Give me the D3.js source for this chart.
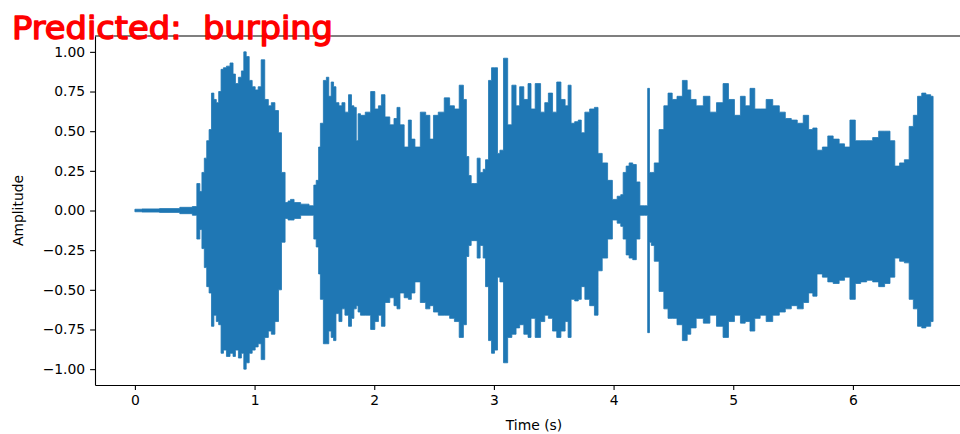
<!DOCTYPE html>
<html>
<head>
<meta charset="utf-8">
<script src="https://cdn.jsdelivr.net/npm/d3@7"></script>
<style>
  html, body { margin: 0; padding: 0; background: #fff; }
  svg { display: block; }
</style>
</head>
<body>
<svg id="chart" width="960" height="434"></svg>
<script>
// ---- data ----
const titleText = "Predicted:  burping";
const xLabel = "Time (s)";
const yLabel = "Amplitude";
const xTicks = [0, 1, 2, 3, 4, 5, 6];
const yTicks = [-1.0, -0.75, -0.5, -0.25, 0, 0.25, 0.5, 0.75, 1.0];

// envelope of the waveform: time (s), upper peak, lower peak
const times = [
  0.00, 0.12, 0.29, 0.46, 0.50, 0.535, 0.55, 0.57, 0.59, 0.61,
  0.63, 0.65, 0.67, 0.69, 0.71, 0.73, 0.75, 0.78, 0.81, 0.83,
  0.85, 0.88, 0.90, 0.92, 0.94, 0.97, 0.99, 1.02, 1.04, 1.07,
  1.10, 1.13, 1.15, 1.19, 1.21, 1.24, 1.27, 1.29, 1.31, 1.35,
  1.42, 1.49, 1.50, 1.53, 1.54, 1.56, 1.59, 1.61, 1.63, 1.65,
  1.67, 1.69, 1.72, 1.74, 1.77, 1.80, 1.82, 1.84, 1.86, 1.87,
  1.90, 1.95, 1.99, 2.02, 2.05, 2.07, 2.11, 2.15, 2.18, 2.20,
  2.23, 2.27, 2.30, 2.32, 2.36, 2.41, 2.45, 2.48, 2.51, 2.56,
  2.61, 2.65, 2.69, 2.73, 2.76, 2.78, 2.80, 2.82, 2.85, 2.87,
  2.90, 2.92, 2.94, 2.97, 2.99, 3.02, 3.04, 3.06, 3.10, 3.13,
  3.17, 3.20, 3.23, 3.27, 3.30, 3.32, 3.37, 3.41, 3.44, 3.47,
  3.51, 3.54, 3.58, 3.61, 3.63, 3.66, 3.69, 3.72, 3.74, 3.78,
  3.82, 3.86, 3.88, 3.93, 3.97, 4.01, 4.05, 4.07, 4.09, 4.12,
  4.14, 4.18, 4.20, 4.24, 4.28, 4.29, 4.31, 4.32, 4.36, 4.40,
  4.44, 4.47, 4.51, 4.55, 4.60, 4.63, 4.66, 4.72, 4.78, 4.83,
  4.89, 4.94, 4.98, 5.04, 5.08, 5.12, 5.16, 5.20, 5.25, 5.30,
  5.36, 5.41, 5.46, 5.51, 5.56, 5.61, 5.65, 5.68, 5.72, 5.77,
  5.81, 5.86, 5.91, 5.95, 6.00, 6.04, 6.09, 6.14, 6.19, 6.24,
  6.29, 6.33, 6.37, 6.41, 6.45, 6.49, 6.52, 6.56, 6.59, 6.63,
  6.67
];
const upper = [
  0.008, 0.010, 0.012, 0.020, 0.025, 0.17, 0.12, 0.24, 0.33, 0.44,
  0.51, 0.74, 0.70, 0.68, 0.75, 0.89, 0.90, 0.91, 0.93, 0.86,
  0.80, 0.84, 0.88, 1.00, 0.97, 0.82, 0.78, 0.76, 0.78, 0.95,
  0.70, 0.66, 0.68, 0.63, 0.49, 0.24, 0.05, 0.06, 0.07, 0.05,
  0.04, 0.03, 0.16, 0.19, 0.40, 0.55, 0.82, 0.84, 0.72, 0.81,
  0.78, 0.68, 0.66, 0.68, 0.62, 0.73, 0.66, 0.65, 0.44, 0.61,
  0.60, 0.62, 0.75, 0.64, 0.66, 0.73, 0.59, 0.54, 0.58, 0.65,
  0.54, 0.40, 0.57, 0.45, 0.40, 0.62, 0.60, 0.45, 0.60, 0.62,
  0.71, 0.66, 0.64, 0.79, 0.70, 0.34, 0.22, 0.17, 0.17, 0.33,
  0.24, 0.26, 0.32, 0.82, 0.90, 0.90, 0.36, 0.38, 0.96, 0.54,
  0.79, 0.66, 0.78, 0.70, 0.80, 0.64, 0.80, 0.62, 0.68, 0.74,
  0.62, 0.81, 0.70, 0.66, 0.79, 0.55, 0.56, 0.57, 0.49, 0.62,
  0.64, 0.65, 0.36, 0.30, 0.19, 0.07, 0.09, 0.10, 0.24, 0.28,
  0.30, 0.29, 0.18, 0.03, 0.03, 0.77, 0.24, 0.24, 0.30, 0.51,
  0.66, 0.74, 0.70, 0.72, 0.82, 0.76, 0.70, 0.66, 0.72, 0.62,
  0.68, 0.80, 0.70, 0.60, 0.72, 0.66, 0.77, 0.64, 0.64, 0.70,
  0.66, 0.62, 0.58, 0.57, 0.55, 0.60, 0.51, 0.52, 0.38, 0.40,
  0.47, 0.45, 0.42, 0.40, 0.57, 0.44, 0.44, 0.44, 0.46, 0.50,
  0.50, 0.44, 0.28, 0.30, 0.32, 0.53, 0.60, 0.72, 0.74, 0.73,
  0.72
];
const lower = [
  -0.008, -0.010, -0.012, -0.020, -0.030, -0.18, -0.12, -0.24, -0.36, -0.48,
  -0.52, -0.73, -0.66, -0.70, -0.72, -0.90, -0.88, -0.92, -0.90, -0.92,
  -0.88, -0.93, -0.90, -1.00, -0.96, -0.90, -0.88, -0.86, -0.84, -0.94,
  -0.80, -0.76, -0.78, -0.70, -0.50, -0.20, -0.05, -0.06, -0.06, -0.05,
  -0.03, -0.03, -0.18, -0.23, -0.40, -0.56, -0.84, -0.84, -0.76, -0.80,
  -0.82, -0.65, -0.70, -0.62, -0.66, -0.73, -0.68, -0.62, -0.60, -0.64,
  -0.66, -0.66, -0.75, -0.70, -0.66, -0.73, -0.58, -0.55, -0.60, -0.62,
  -0.52, -0.55, -0.56, -0.52, -0.45, -0.58, -0.62, -0.60, -0.64, -0.66,
  -0.66, -0.68, -0.70, -0.80, -0.72, -0.29, -0.22, -0.19, -0.19, -0.30,
  -0.22, -0.30, -0.48, -0.82, -0.90, -0.88, -0.42, -0.45, -0.96, -0.80,
  -0.78, -0.74, -0.72, -0.78, -0.80, -0.68, -0.80, -0.70, -0.66, -0.68,
  -0.76, -0.80, -0.76, -0.70, -0.80, -0.56, -0.57, -0.56, -0.48, -0.56,
  -0.60, -0.66, -0.38, -0.30, -0.18, -0.06, -0.08, -0.10, -0.18, -0.28,
  -0.30, -0.31, -0.18, -0.03, -0.03, -0.77, -0.20, -0.22, -0.32, -0.51,
  -0.62, -0.68, -0.68, -0.72, -0.82, -0.78, -0.74, -0.68, -0.71, -0.66,
  -0.73, -0.80, -0.70, -0.66, -0.71, -0.70, -0.76, -0.68, -0.66, -0.70,
  -0.66, -0.64, -0.62, -0.60, -0.62, -0.58, -0.52, -0.54, -0.40, -0.42,
  -0.45, -0.46, -0.44, -0.42, -0.56, -0.46, -0.45, -0.44, -0.45, -0.48,
  -0.46, -0.42, -0.30, -0.32, -0.33, -0.56, -0.62, -0.73, -0.74, -0.73,
  -0.70
];

// ---- layout ----
const svg = d3.select("#chart");
const mLeft = 95, mRight = 973, mTop = 36, mBottom = 385;

const x = d3.scaleLinear().domain([-0.3335, 7.0035]).range([mLeft, mRight]);
const y = d3.scaleLinear().domain([-1.1, 1.1]).range([mBottom, mTop]);

const pts = times.map((t, i) => ({ t, hi: upper[i], lo: lower[i] }));

const area = d3.area()
  .x(d => x(d.t))
  .y0(d => y(d.lo))
  .y1(d => y(d.hi))
  .curve(d3.curveStep);

svg.append("path")
  .datum(pts)
  .attr("d", area)
  .attr("fill", "#1f77b4")
  .attr("stroke", "#1f77b4")
  .attr("stroke-width", 0.8);

// axes
const fmt = v => (v < 0 ? "\u2212" : "") + Math.abs(v).toFixed(2);
const font = "'DejaVu Sans', sans-serif";

const xAxis = d3.axisBottom(x).tickValues(xTicks).tickFormat(d3.format("d"))
  .tickSizeInner(4.9).tickSizeOuter(0).tickPadding(4.9);
const yAxis = d3.axisLeft(y).tickValues(yTicks).tickFormat(fmt)
  .tickSizeInner(4.9).tickSizeOuter(0).tickPadding(4.9);

const gx = svg.append("g").attr("transform", `translate(0,${mBottom})`).call(xAxis);
const gy = svg.append("g").attr("transform", `translate(${mLeft},0)`).call(yAxis);

[gx, gy].forEach(g => {
  g.select(".domain").attr("stroke", "#000").attr("stroke-width", 1.1);
  g.selectAll(".tick line").attr("stroke", "#000").attr("stroke-width", 1.1);
  g.selectAll(".tick text").attr("fill", "#000")
    .style("font-family", font).style("font-size", "13.9px");
});

// top spine
svg.append("line")
  .attr("x1", mLeft).attr("x2", mRight)
  .attr("y1", mTop).attr("y2", mTop)
  .attr("stroke", "#000").attr("stroke-width", 1.1);

// axis labels
svg.append("text")
  .attr("x", (mLeft + mRight) / 2).attr("y", 430)
  .attr("text-anchor", "middle")
  .style("font-family", font).style("font-size", "13.9px")
  .attr("fill", "#000")
  .text(xLabel);

svg.append("text")
  .attr("transform", `translate(23,${(mTop + mBottom) / 2}) rotate(-90)`)
  .attr("text-anchor", "middle")
  .style("font-family", font).style("font-size", "13.9px")
  .attr("fill", "#000")
  .text(yLabel);

// overlaid prediction title
svg.append("text")
  .attr("x", 12).attr("y", 39)
  .attr("textLength", 321)
  .attr("lengthAdjust", "spacingAndGlyphs")
  .style("font-family", font).style("font-size", "32px")
  .style("white-space", "pre")
  .attr("fill", "#ff0000")
  .attr("stroke", "#ff0000")
  .attr("stroke-width", 1.4)
  .attr("stroke-linejoin", "round")
  .text(titleText);
</script>
</body>
</html>
